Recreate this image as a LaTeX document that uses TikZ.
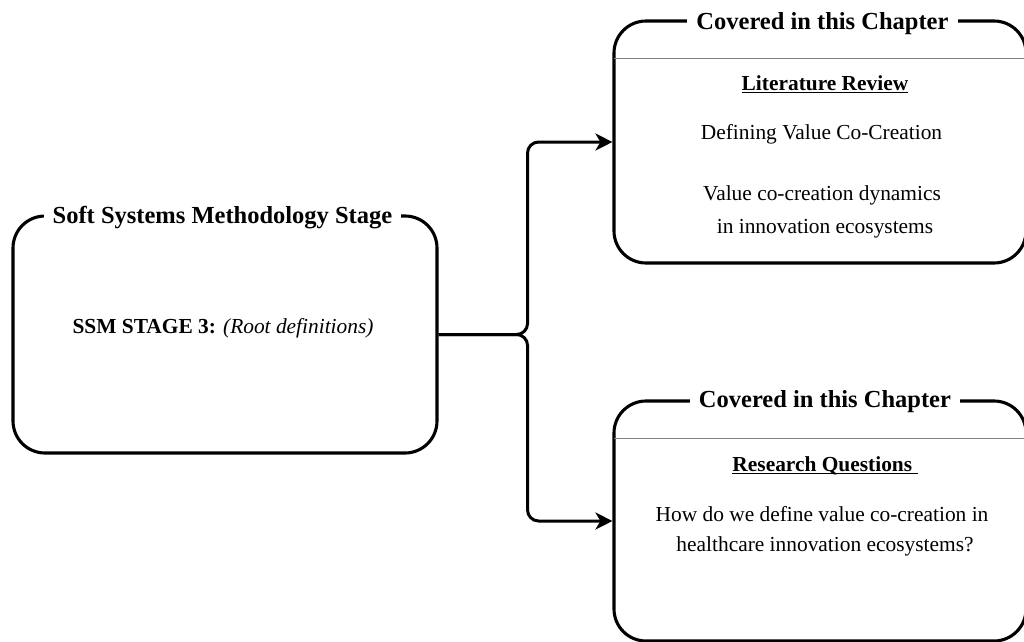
\documentclass[tikz,border=0pt]{standalone}
\usepackage{fontspec}
\setmainfont{Liberation Serif}
\usetikzlibrary{arrows.meta,calc}

% underlined heading text: a rule as wide as the text, below the baseline
\newcommand{\ulword}[1]{\setbox0\hbox{#1}\rlap{\rule[-3.2pt]{\wd0}{1.4pt}}\box0}

\tikzset{
  panel/.style={draw=black, line width=3.1pt, rounded corners=32pt, inner sep=0pt},
  paneltitle/.style={fill=white, inner xsep=9pt, inner ysep=2pt, anchor=base,
    font=\fontsize{24.5}{29}\selectfont\bfseries},
  bodytext/.style={anchor=base, inner sep=0pt, font=\fontsize{21.4}{26}\selectfont},
  divider/.style={draw=black!50, line width=1.6pt},
  link/.style={draw=black, line width=3pt, rounded corners=11pt,
    -{Stealth[length=17pt,width=17pt,inset=5pt]}},
}

\begin{document}
\begin{tikzpicture}[x=1pt,y=-1pt]
\useasboundingbox (0,0) rectangle (1024,641);

% the three panels
\node[panel, minimum width=424pt, minimum height=237pt] (stage) at (225,334.5) {};
\node[panel, minimum width=412pt, minimum height=242pt] (review) at (820,142) {};
\node[panel, minimum width=412pt, minimum height=240pt] (questions) at (820,521) {};

% header dividers of the right panels
\draw[divider] ($(review.north west)+(1.5,39)$) -- ($(review.north east)+(-1.5,39)$);
\draw[divider] ($(questions.north west)+(1.5,39)$) -- ($(questions.north east)+(-1.5,39)$);

% panel titles sitting on the top border
\node[paneltitle] (stagetitle) at (222.5,223) {Soft Systems Methodology Stage};
\node[paneltitle] (reviewtitle) at (822.5,29) {Covered in this Chapter};
\node[paneltitle] (questionstitle) at (825,407) {Covered in this Chapter};

% left panel content
\node[bodytext] (ssm) at (223,333) {\textbf{SSM STAGE 3:} \textit{(Root definitions)}};

% upper right panel content
\node[bodytext] (litrev) at (825,90) {\bfseries\ulword{Literature Review}};
\node[bodytext] (defvcc) at (821.5,139) {Defining Value Co-Creation};
\node[bodytext] (dynA) at (822,200) {Value co-creation dynamics};
\node[bodytext] (dynB) at (825,233) {in innovation ecosystems};

% lower right panel content
\node[bodytext] (resq) at (825,471) {\bfseries\ulword{Research Questions\ }};
\node[bodytext] (qA) at (822,521) {How do we define value co-creation in};
\node[bodytext] (qB) at (825,551) {healthcare innovation ecosystems?};

% forked connector
\coordinate (fork) at ($(stage.east)+(89,0)$);
\draw[link] (stage.east) -- (fork) |- (review.west);
\draw[link] (stage.east) -- (fork) |- (questions.west);
\end{tikzpicture}
\end{document}
